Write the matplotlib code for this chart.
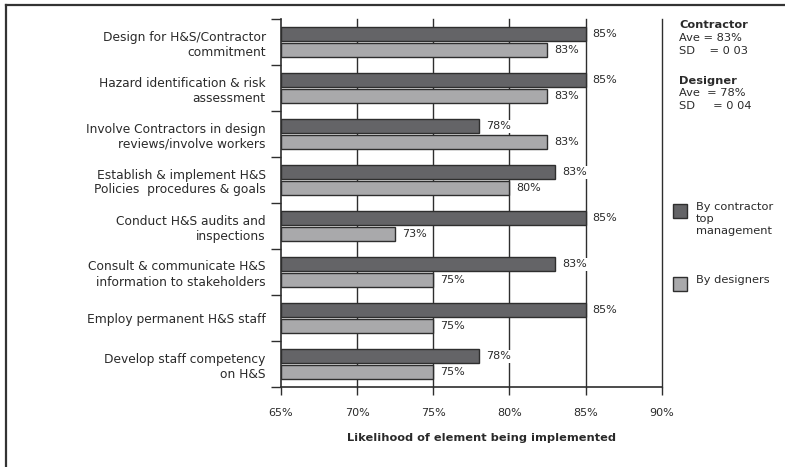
import matplotlib
matplotlib.use("Agg")
import matplotlib.pyplot as plt
from matplotlib.patches import Rectangle
from matplotlib.lines import Line2D
import numpy as np

categories = [
    "Design for H&S/Contractor\ncommitment",
    "Hazard identification & risk\nassessment",
    "Involve Contractors in design\nreviews/involve workers",
    "Establish & implement H&S\nPolicies  procedures & goals",
    "Conduct H&S audits and\ninspections",
    "Consult & communicate H&S\ninformation to stakeholders",
    "Employ permanent H&S staff",
    "Develop staff competency\non H&S",
]
contractor = [85, 85, 78, 83, 85, 83, 85, 78]
designer = [82.5, 82.5, 82.5, 80, 72.5, 75, 75, 75]
contractor_labels = ["85%", "85%", "78%", "83%", "85%", "83%", "85%", "78%"]
designer_labels = ["83%", "83%", "83%", "80%", "73%", "75%", "75%", "75%"]
xticks = [65, 70, 75, 80, 85, 90]
xtick_labels = ["65%", "70%", "75%", "80%", "85%", "90%"]
series_names = ["By contractor\ntop\nmanagement", "By designers"]
stats_lines = [("Contractor", True), ("Ave = 83%", False), ("SD    = 0 03", False),
               ("", False),
               ("Designer", True), ("Ave  = 78%", False), ("SD     = 0 04", False)]

plt.rcParams["font.family"] = ["DejaVu Sans"]
W, H = 785, 467
fig = plt.figure(figsize=(W / 100, H / 100), dpi=100)
ax = fig.add_axes([281 / W, 1 - 387 / H, (661.7 - 281) / W, (387 - 19) / H])

dark = "#646467"
light = "#a9a9ab"
edge = "#2e2e2e"
txt = "#2a2a2a"

y = np.arange(len(categories))
h = 0.31
off = 0.17
ax.barh(y - off, np.array(contractor) - 65, left=65, height=h, color=dark,
        edgecolor=edge, linewidth=1.0, zorder=3)
ax.barh(y + off, np.array(designer) - 65, left=65, height=h, color=light,
        edgecolor=edge, linewidth=1.0, zorder=3)

bbox = dict(facecolor="white", edgecolor="none", pad=1.0)
for i in range(len(categories)):
    ax.annotate(contractor_labels[i], (contractor[i], y[i] - off), xytext=(5, 0),
                textcoords="offset points", va="center", ha="left", fontsize=8,
                color=txt, bbox=bbox, zorder=4)
    ax.annotate(designer_labels[i], (designer[i], y[i] + off), xytext=(5, 0),
                textcoords="offset points", va="center", ha="left", fontsize=8,
                color=txt, bbox=bbox, zorder=4)

ax.set_xlim(65, 90)
ax.set_ylim(len(categories) - 0.5, -0.5)
for gx in xticks[1:]:
    ax.axvline(gx, color="#2e2e2e", linewidth=1.0, zorder=1, clip_on=False)

ax.set_xticks(xticks)
ax.set_xticklabels(xtick_labels, fontsize=8, color=txt)
ax.tick_params(axis="x", length=6, width=1, color="#2e2e2e", pad=9)

ax.set_yticks(y)
ax.set_yticklabels(categories, fontsize=8.8, color=txt, linespacing=1.2)
ax.tick_params(axis="y", which="major", length=0, pad=11)
ax.set_yticks(np.arange(len(categories) + 1) - 0.5, minor=True)
ax.tick_params(axis="y", which="minor", length=7, width=1, color="#2e2e2e")

for s in ["top", "right"]:
    ax.spines[s].set_visible(False)
for s in ["left", "bottom"]:
    ax.spines[s].set_color("#2e2e2e")
    ax.spines[s].set_linewidth(1.2)

fig.text(481.5 / W, 1 - 438 / H, "Likelihood of element being implemented",
         ha="center", va="center", fontsize=8.2, fontweight="bold", color=txt)

# stats text
ys = [25, 38, 51, 64, 81, 93, 106]
for (t, b), yy in zip(stats_lines, ys):
    if t:
        fig.text(679 / W, 1 - yy / H, t, ha="left", va="center", fontsize=8.2,
                 fontweight="bold" if b else "normal", color=txt)

# legend
for (name, col), top_y in zip(zip(series_names, [dark, light]), [204, 277]):
    fig.patches.append(Rectangle((673 / W, 1 - (top_y + 14) / H), 14 / W, 14 / H,
                                 transform=fig.transFigure, facecolor=col,
                                 edgecolor=edge, linewidth=1.0))
    fig.text(696 / W, 1 - (top_y - 2) / H, name, ha="left", va="top",
             fontsize=8.2, color=txt, linespacing=1.25)

# outer frame (left and top edges visible)
fig.lines.append(Line2D([6 / W, 6 / W], [0, 1 - 5 / H], transform=fig.transFigure,
                        color="#333333", linewidth=1.6))
fig.lines.append(Line2D([6 / W, 1], [1 - 5 / H, 1 - 5 / H], transform=fig.transFigure,
                        color="#333333", linewidth=1.6))

fig.savefig("out.png", dpi=100, facecolor="white")
